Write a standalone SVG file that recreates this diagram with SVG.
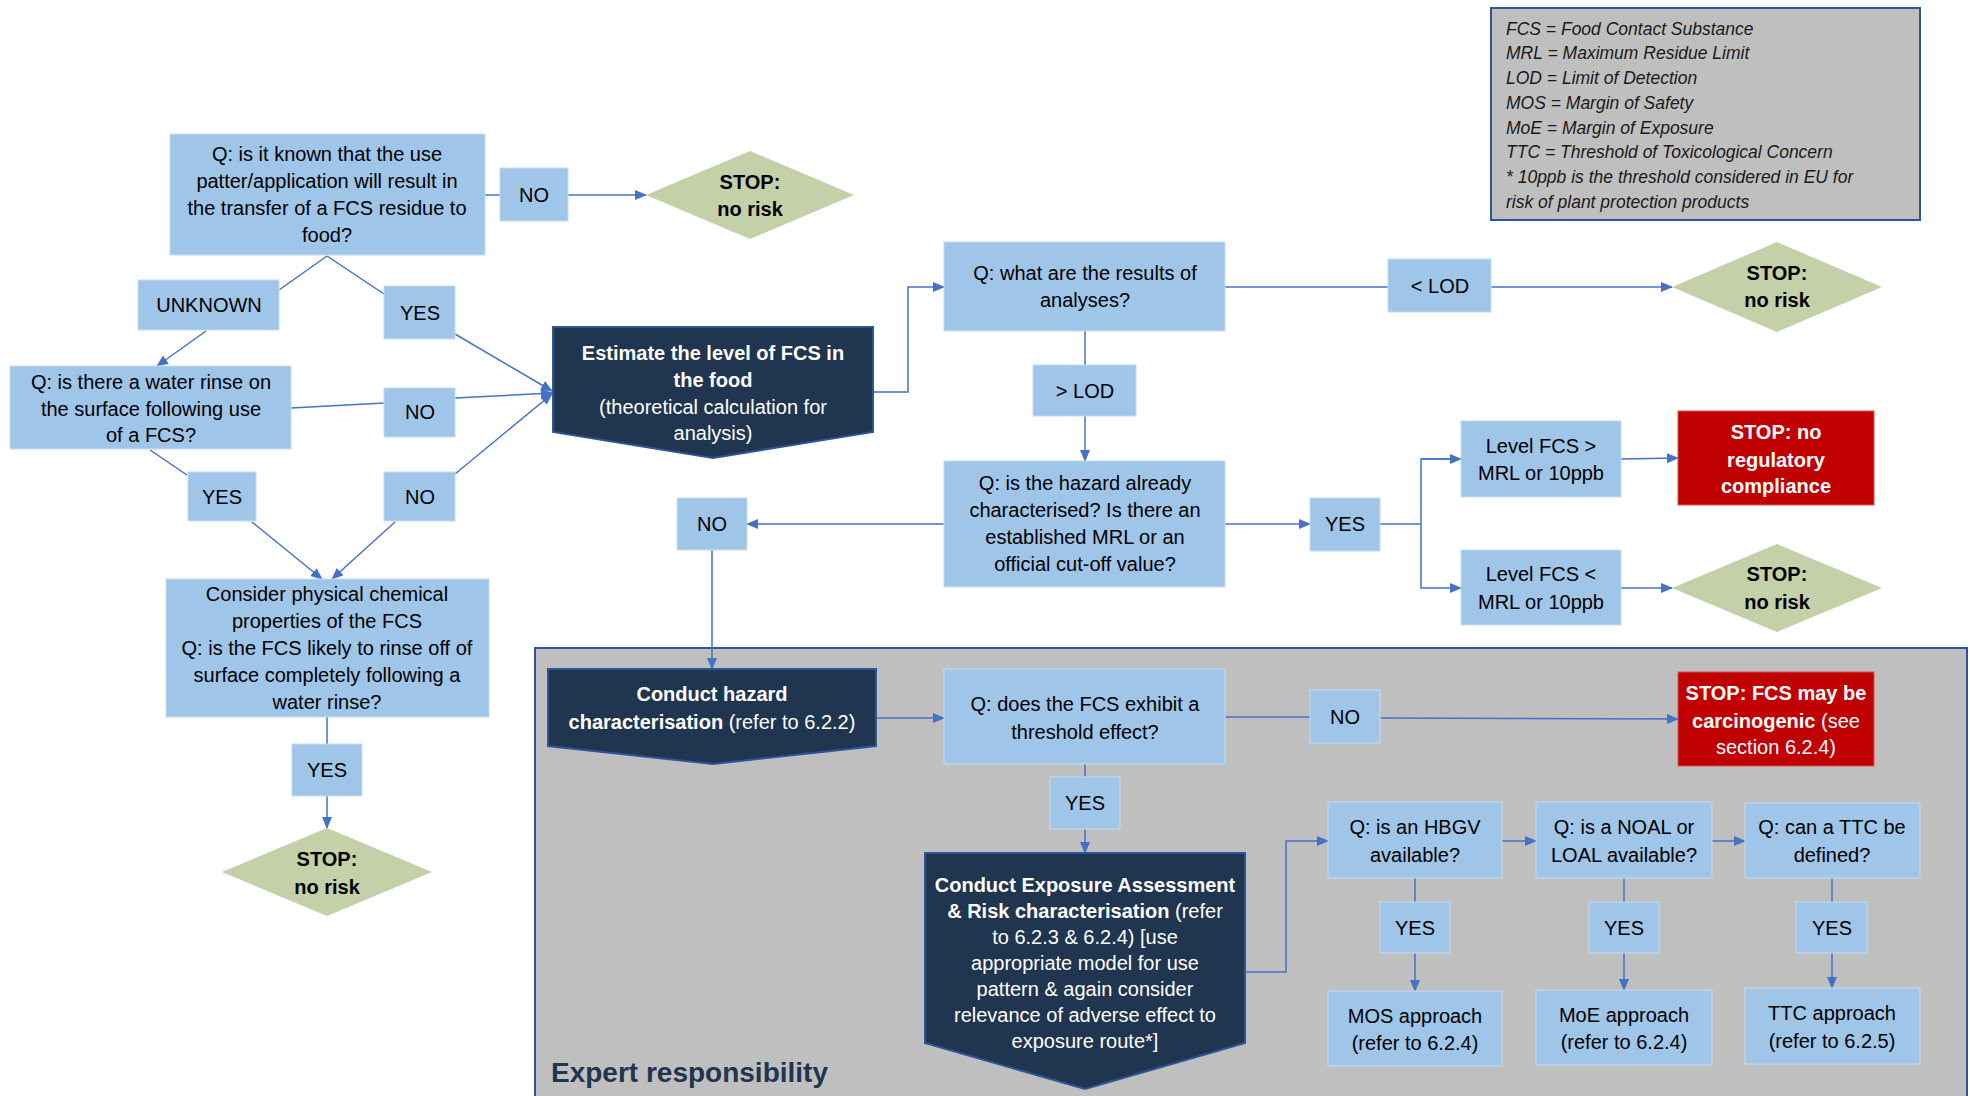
<svg xmlns="http://www.w3.org/2000/svg" width="1970" height="1096" viewBox="0 0 1970 1096">
<style>
.box{fill:#9fc5e8;stroke:#c5dcf1;stroke-width:1}
.dark{fill:#1f3550;stroke:#2f5597;stroke-width:2}
.dia{fill:#c4d0a8}
.red{fill:#c00000;stroke:#d9534f;stroke-width:1}
text{font-family:"Liberation Sans",Arial,sans-serif;font-size:20px;text-anchor:middle;fill:#000}
.w{fill:#fff}
.b{font-weight:bold}
.n{font-weight:normal}
.leg{font-size:17.5px;font-style:italic;text-anchor:start;fill:#1a1a1a}
.conn path,.conn line{stroke:#4472c4;stroke-width:1.5;fill:none}
</style>
<defs>
<marker id="ar" markerUnits="userSpaceOnUse" markerWidth="12" markerHeight="12" viewBox="0 0 12 12" refX="11" refY="6" orient="auto">
<path d="M0,1 L12,6 L0,11 Z" fill="#4472c4"/>
</marker>
</defs>

<g id="expert-region">
<rect x="535" y="648" width="1432" height="460" fill="#bfbfbf" stroke="#2f5597" stroke-width="2"/>
<text x="551" y="1082" class="b" style="font-size:28px;text-anchor:start;fill:#1f3550">Expert responsibility</text>
</g>

<g id="legend">
<rect x="1491" y="8" width="429" height="212" fill="#bfbfbf" stroke="#2f5597" stroke-width="2"/>
<text class="leg" x="1506" y="35">FCS = Food Contact Substance</text>
<text class="leg" x="1506" y="59">MRL = Maximum Residue Limit</text>
<text class="leg" x="1506" y="84">LOD = Limit of Detection</text>
<text class="leg" x="1506" y="109">MOS = Margin of Safety</text>
<text class="leg" x="1506" y="134">MoE = Margin of Exposure</text>
<text class="leg" x="1506" y="158">TTC = Threshold of Toxicological Concern</text>
<text class="leg" x="1506" y="183">* 10ppb is the threshold considered in EU for</text>
<text class="leg" x="1506" y="208">risk of plant protection products</text>
</g>

<g id="connectors" class="conn">
<line x1="485" y1="195" x2="500" y2="195"/>
<line x1="568" y1="195" x2="646" y2="195" marker-end="url(#ar)"/>
<line x1="327" y1="256" x2="279" y2="290"/>
<line x1="327" y1="256" x2="384" y2="294"/>
<line x1="206" y1="331" x2="157" y2="366" marker-end="url(#ar)"/>
<line x1="455" y1="334" x2="552" y2="391" marker-end="url(#ar)"/>
<line x1="291" y1="408" x2="384" y2="403"/>
<line x1="455" y1="398" x2="552" y2="393" marker-end="url(#ar)"/>
<line x1="150" y1="450" x2="187" y2="475"/>
<line x1="455" y1="474" x2="552" y2="394" marker-end="url(#ar)"/>
<line x1="252" y1="522" x2="322" y2="579" marker-end="url(#ar)"/>
<line x1="395" y1="522" x2="332" y2="579" marker-end="url(#ar)"/>
<line x1="327" y1="717" x2="327" y2="744"/>
<line x1="327" y1="796" x2="327" y2="828" marker-end="url(#ar)"/>
<path d="M873,392 H908 V287 H944" marker-end="url(#ar)"/>
<line x1="1085" y1="331" x2="1085" y2="365"/>
<line x1="1085" y1="416" x2="1085" y2="461" marker-end="url(#ar)"/>
<line x1="1225" y1="287" x2="1388" y2="287"/>
<line x1="1491" y1="287" x2="1672" y2="287" marker-end="url(#ar)"/>
<line x1="944" y1="524" x2="747" y2="524" marker-end="url(#ar)"/>
<line x1="712" y1="550" x2="712" y2="669" marker-end="url(#ar)"/>
<line x1="1225" y1="524" x2="1310" y2="524" marker-end="url(#ar)"/>
<path d="M1380,524 H1421"/>
<path d="M1461,459 H1421 V588 H1461" marker-end="url(#ar)"/>
<line x1="1421" y1="459" x2="1461" y2="459" marker-end="url(#ar)"/>
<line x1="1621" y1="459" x2="1678" y2="458" marker-end="url(#ar)"/>
<line x1="1621" y1="588" x2="1672" y2="588" marker-end="url(#ar)"/>
<line x1="876" y1="718" x2="944" y2="718" marker-end="url(#ar)"/>
<line x1="1225" y1="717" x2="1310" y2="717"/>
<line x1="1380" y1="718" x2="1678" y2="719" marker-end="url(#ar)"/>
<line x1="1085" y1="764" x2="1085" y2="777"/>
<line x1="1085" y1="829" x2="1085" y2="853" marker-end="url(#ar)"/>
<path d="M1245,972 H1286 V841 H1328" marker-end="url(#ar)"/>
<line x1="1502" y1="841" x2="1536" y2="841" marker-end="url(#ar)"/>
<line x1="1712" y1="841" x2="1745" y2="841" marker-end="url(#ar)"/>
<line x1="1415" y1="878" x2="1415" y2="902"/>
<line x1="1415" y1="953" x2="1415" y2="991" marker-end="url(#ar)"/>
<line x1="1624" y1="878" x2="1624" y2="902"/>
<line x1="1624" y1="953" x2="1624" y2="990" marker-end="url(#ar)"/>
<line x1="1832" y1="878" x2="1832" y2="902"/>
<line x1="1832" y1="953" x2="1832" y2="988" marker-end="url(#ar)"/>
</g>

<g id="q-transfer">
<rect class="box" x="170" y="134" width="315" height="121"/>
<text x="327" y="161">Q: is it known that the use</text>
<text x="327" y="188">patter/application will result in</text>
<text x="327" y="215">the transfer of a FCS residue to</text>
<text x="327" y="242">food?</text>
</g>
<g id="no-transfer"><rect class="box" x="500" y="168" width="68" height="53"/><text x="534" y="202">NO</text></g>
<g id="stop-norisk-1">
<path class="dia" d="M646,195 L750,151 L854,195 L750,239 Z"/>
<text class="b" x="750" y="189">STOP:</text>
<text class="b" x="750" y="216">no risk</text>
</g>
<g id="unknown"><rect class="box" x="138" y="280" width="141" height="50"/><text x="209" y="312">UNKNOWN</text></g>
<g id="yes-transfer"><rect class="box" x="384" y="286" width="71" height="53"/><text x="420" y="320">YES</text></g>
<g id="q-rinse">
<rect class="box" x="10" y="366" width="281" height="83"/>
<text x="151" y="389">Q: is there a water rinse on</text>
<text x="151" y="416">the surface following use</text>
<text x="151" y="442">of a FCS?</text>
</g>
<g id="no-rinse"><rect class="box" x="384" y="388" width="71" height="49"/><text x="420" y="419">NO</text></g>
<g id="yes-rinse"><rect class="box" x="188" y="472" width="68" height="49"/><text x="222" y="504">YES</text></g>
<g id="no-rinseoff"><rect class="box" x="384" y="472" width="71" height="49"/><text x="420" y="504">NO</text></g>
<g id="q-physchem">
<rect class="box" x="166" y="579" width="323" height="138"/>
<text x="327" y="601">Consider physical chemical</text>
<text x="327" y="628">properties of the FCS</text>
<text x="327" y="655">Q: is the FCS likely to rinse off of</text>
<text x="327" y="682">surface completely following a</text>
<text x="327" y="709">water rinse?</text>
</g>
<g id="yes-rinseoff"><rect class="box" x="292" y="744" width="70" height="52"/><text x="327" y="777">YES</text></g>
<g id="stop-norisk-2">
<path class="dia" d="M222,872 L327,828 L432,872 L327,916 Z"/>
<text class="b" x="327" y="866">STOP:</text>
<text class="b" x="327" y="894">no risk</text>
</g>
<g id="estimate">
<path class="dark" d="M553,327 H873 V432 L713,458 L553,432 Z"/>
<text class="w b" x="713" y="360">Estimate the level of FCS in</text>
<text class="w b" x="713" y="387">the food</text>
<text class="w" x="713" y="414">(theoretical calculation for</text>
<text class="w" x="713" y="440">analysis)</text>
</g>
<g id="q-analyses">
<rect class="box" x="944" y="242" width="281" height="89"/>
<text x="1085" y="280">Q: what are the results of</text>
<text x="1085" y="307">analyses?</text>
</g>
<g id="gt-lod"><rect class="box" x="1033" y="365" width="103" height="51"/><text x="1085" y="398">&gt; LOD</text></g>
<g id="lt-lod"><rect class="box" x="1388" y="259" width="103" height="53"/><text x="1440" y="293">&lt; LOD</text></g>
<g id="stop-norisk-3">
<path class="dia" d="M1672,287 L1777,242 L1882,287 L1777,332 Z"/>
<text class="b" x="1777" y="280">STOP:</text>
<text class="b" x="1777" y="307">no risk</text>
</g>
<g id="q-hazard">
<rect class="box" x="944" y="461" width="281" height="126"/>
<text x="1085" y="490">Q: is the hazard already</text>
<text x="1085" y="517">characterised? Is there an</text>
<text x="1085" y="544">established MRL or an</text>
<text x="1085" y="571">official cut-off value?</text>
</g>
<g id="no-hazard"><rect class="box" x="677" y="498" width="70" height="52"/><text x="712" y="531">NO</text></g>
<g id="yes-hazard"><rect class="box" x="1310" y="498" width="70" height="53"/><text x="1345" y="531">YES</text></g>
<g id="level-gt">
<rect class="box" x="1461" y="421" width="160" height="76"/>
<text x="1541" y="453">Level FCS &gt;</text>
<text x="1541" y="480">MRL or 10ppb</text>
</g>
<g id="level-lt">
<rect class="box" x="1461" y="550" width="160" height="75"/>
<text x="1541" y="581">Level FCS &lt;</text>
<text x="1541" y="609">MRL or 10ppb</text>
</g>
<g id="stop-compliance">
<rect class="red" x="1678" y="411" width="196" height="94"/>
<text class="w b" x="1776" y="439">STOP: no</text>
<text class="w b" x="1776" y="467">regulatory</text>
<text class="w b" x="1776" y="493">compliance</text>
</g>
<g id="stop-norisk-4">
<path class="dia" d="M1672,588 L1777,544 L1882,588 L1777,632 Z"/>
<text class="b" x="1777" y="581">STOP:</text>
<text class="b" x="1777" y="609">no risk</text>
</g>
<g id="hazard-char">
<path class="dark" d="M548,669 H876 V746 L713,764 L548,746 Z"/>
<text class="w b" x="712" y="701">Conduct hazard</text>
<text class="w b" x="712" y="729">characterisation<tspan class="n"> (refer to 6.2.2)</tspan></text>
</g>
<g id="q-threshold">
<rect class="box" x="944" y="669" width="281" height="95"/>
<text x="1085" y="711">Q: does the FCS exhibit a</text>
<text x="1085" y="739">threshold effect?</text>
</g>
<g id="no-threshold"><rect class="box" x="1310" y="690" width="70" height="53"/><text x="1345" y="724">NO</text></g>
<g id="stop-carcinogenic">
<rect class="red" x="1678" y="672" width="196" height="94"/>
<text class="w b" x="1776" y="700">STOP: FCS may be</text>
<text class="w b" x="1776" y="728">carcinogenic<tspan class="n"> (see</tspan></text>
<text class="w" x="1776" y="754">section 6.2.4)</text>
</g>
<g id="yes-threshold"><rect class="box" x="1050" y="777" width="70" height="52"/><text x="1085" y="810">YES</text></g>
<g id="exposure">
<path class="dark" d="M925,853 H1245 V1043 L1085,1089 L925,1043 Z"/>
<text class="w b" x="1085" y="892">Conduct Exposure Assessment</text>
<text class="w b" x="1085" y="918">&amp; Risk characterisation<tspan class="n"> (refer</tspan></text>
<text class="w" x="1085" y="944">to 6.2.3 &amp; 6.2.4) [use</text>
<text class="w" x="1085" y="970">appropriate model for use</text>
<text class="w" x="1085" y="996">pattern &amp; again consider</text>
<text class="w" x="1085" y="1022">relevance of adverse effect to</text>
<text class="w" x="1085" y="1048">exposure route*]</text>
</g>
<g id="q-hbgv">
<rect class="box" x="1328" y="802" width="174" height="76"/>
<text x="1415" y="834">Q: is an HBGV</text>
<text x="1415" y="862">available?</text>
</g>
<g id="q-noal">
<rect class="box" x="1536" y="802" width="176" height="76"/>
<text x="1624" y="834">Q: is a NOAL or</text>
<text x="1624" y="862">LOAL available?</text>
</g>
<g id="q-ttc">
<rect class="box" x="1745" y="803" width="175" height="75"/>
<text x="1832" y="834">Q: can a TTC be</text>
<text x="1832" y="862">defined?</text>
</g>
<g id="yes-hbgv"><rect class="box" x="1380" y="902" width="70" height="51"/><text x="1415" y="935">YES</text></g>
<g id="yes-noal"><rect class="box" x="1589" y="902" width="70" height="51"/><text x="1624" y="935">YES</text></g>
<g id="yes-ttc"><rect class="box" x="1796" y="902" width="71" height="51"/><text x="1832" y="935">YES</text></g>
<g id="mos">
<rect class="box" x="1328" y="991" width="174" height="75"/>
<text x="1415" y="1023">MOS approach</text>
<text x="1415" y="1050">(refer to 6.2.4)</text>
</g>
<g id="moe">
<rect class="box" x="1536" y="990" width="176" height="75"/>
<text x="1624" y="1022">MoE approach</text>
<text x="1624" y="1049">(refer to 6.2.4)</text>
</g>
<g id="ttc">
<rect class="box" x="1745" y="988" width="175" height="76"/>
<text x="1832" y="1020">TTC approach</text>
<text x="1832" y="1048">(refer to 6.2.5)</text>
</g>
</svg>
